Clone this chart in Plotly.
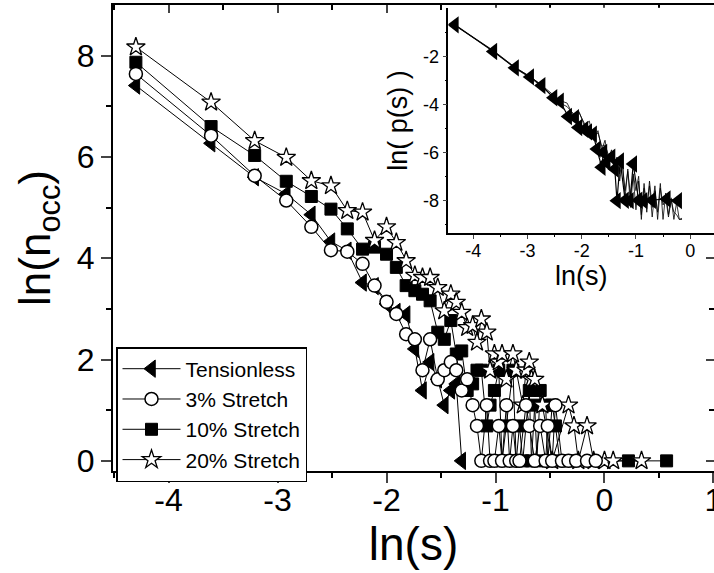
import plotly.graph_objects as go

# ---------------- main panel data: ln(s) vs ln(n_occ) ----------------
tens_x = [-4.30, -3.61, -3.21, -2.92, -2.69, -2.51, -2.36, -2.22, -2.11, -2.00,
          -1.91, -1.82, -1.74, -1.67, -1.60, -1.53, -1.47, -1.41, -1.36, -1.31]
tens_y = [7.41, 6.27, 5.60, 5.27, 4.86, 4.33, 4.15, 3.52, 3.45, 3.10,
          2.94, 2.89, 2.21, 1.39, 1.95, 1.61, 1.10, 1.39, 1.52, 0.00]

s3_x = [-4.30, -3.61, -3.21, -2.92, -2.69, -2.51, -2.36, -2.22, -2.11, -2.00,
        -1.91, -1.82, -1.74, -1.67, -1.60, -1.53, -1.47, -1.41, -1.36, -1.31,
        -1.26, -1.21, -1.17, -1.13, -1.08, -1.05, -1.01, -0.97, -0.94, -0.90,
        -0.87, -0.84, -0.81, -0.78, -0.72, -0.69, -0.64, -0.59, -0.54, -0.52,
        -0.48, -0.45, -0.39, -0.33, -0.26, -0.16, -0.08]
s3_y = [7.64, 6.42, 5.63, 5.14, 4.62, 4.16, 4.13, 3.89, 3.46, 3.14,
        2.90, 2.50, 2.40, 1.79, 2.40, 1.61, 1.79, 1.95, 1.79, 1.39,
        1.61, 1.10, 0.69, 0.00, 1.10, 0.00, 0.00, 0.69, 0.00, 1.10,
        0.00, 0.69, 0.00, 0.00, 1.10, 0.69, 0.00, 0.69, 0.00, 0.69,
        0.00, 1.10, 0.00, 0.00, 0.00, 0.00, 0.00]

s10_x = [-4.30, -3.61, -3.21, -2.92, -2.69, -2.51, -2.36, -2.22, -2.11, -2.00,
         -1.91, -1.82, -1.74, -1.67, -1.60, -1.53, -1.47, -1.41, -1.36, -1.31,
         -1.26, -1.21, -1.17, -1.13, -1.08, -1.05, -1.01, -0.97, -0.94, -0.90,
         -0.84, -0.81, -0.78, -0.75, -0.69, -0.67, -0.64, -0.62, -0.59, -0.54,
         -0.52, -0.48, -0.45, -0.41, -0.35, -0.28, 0.22, 0.57]
s10_y = [7.87, 6.60, 6.03, 5.52, 5.22, 4.97, 4.58, 4.18, 4.22, 4.08,
         3.82, 3.46, 3.36, 3.29, 3.16, 2.54, 2.40, 2.77, 2.11, 2.17,
         1.39, 1.52, 1.79, 1.79, 0.69, 1.10, 1.39, 1.79, 0.00, 0.69,
         1.79, 0.00, 0.69, 0.00, 1.39, 0.00, 1.10, 0.00, 1.39, 1.10,
         0.00, 1.10, 0.69, 0.00, 0.00, 0.00, 0.00, 0.00]

s20_x = [-4.30, -3.61, -3.21, -2.92, -2.69, -2.51, -2.36, -2.22, -2.11, -2.00,
         -1.91, -1.82, -1.74, -1.67, -1.60, -1.53, -1.47, -1.41, -1.36, -1.31,
         -1.26, -1.21, -1.17, -1.13, -1.08, -1.05, -1.01, -0.97, -0.94, -0.90,
         -0.84, -0.81, -0.75, -0.72, -0.69, -0.67, -0.64, -0.57, -0.48, -0.33,
         -0.28, -0.24, -0.16, -0.10, 0.00, 0.08, 0.34]
s20_y = [8.17, 7.08, 6.32, 5.99, 5.53, 5.43, 4.94, 4.91, 4.35, 4.62,
         4.31, 3.95, 3.66, 3.62, 3.62, 3.42, 2.96, 3.29, 3.13, 2.93,
         2.63, 2.67, 2.34, 2.80, 2.54, 1.79, 2.11, 1.95, 2.11, 1.61,
         2.11, 1.79, 1.10, 1.79, 1.95, 1.61, 1.61, 1.10, 0.00, 1.10,
         0.69, 0.00, 0.69, 0.00, 0.00, 0.00, 0.00]

# ---------------- inset data: ln(s) vs ln(p(s)) ----------------
ins_tri_x = [-4.34, -3.63, -3.23, -2.95, -2.74, -2.52, -2.40, -2.25, -2.12, -2.06,
             -1.95, -1.88, -1.79, -1.72, -1.63, -1.60, -1.54, -1.45, -1.39, -1.35,
             -1.29, -1.20, -1.11, -1.05, -0.95, -0.86, -0.70, -0.43, -0.22]
ins_tri_y = [-0.69, -1.80, -2.48, -2.86, -3.22, -3.73, -3.87, -4.51, -4.56, -4.97,
             -5.05, -5.15, -5.25, -5.87, -6.63, -6.01, -6.42, -6.20, -6.70, -8.02,
             -6.36, -8.00, -8.02, -6.49, -8.00, -8.02, -8.00, -7.95, -8.02]

ins_line_x = [-4.34, -3.63, -3.23, -2.95, -2.74, -2.56, -2.40, -2.27, -2.15, -2.05,
              -1.95, -1.86, -1.78, -1.70, -1.63, -1.57, -1.51, -1.45, -1.40, -1.35,
              -1.30, -1.25, -1.20, -1.15, -1.10, -1.05, -1.00, -0.95, -0.90, -0.85,
              -0.80, -0.75, -0.70, -0.65, -0.60, -0.55, -0.50, -0.45, -0.40, -0.35,
              -0.30, -0.25, -0.20, -0.15]
ins_lineA_y = [-0.72, -1.78, -2.50, -2.90, -3.25, -3.62, -3.95, -4.10, -4.40, -4.35,
               -4.80, -4.95, -5.30, -5.20, -5.75, -5.70, -6.10, -6.00, -6.60, -6.30,
               -6.90, -6.50, -7.60, -6.80, -7.80, -7.00, -8.40, -7.20, -8.60, -7.50,
               -8.20, -7.40, -8.70, -7.60, -8.50, -7.30, -8.80, -7.70, -8.60, -7.90,
               -8.80, -8.10, -8.80, -8.80]
ins_lineB_y = [-0.70, -1.76, -2.46, -2.85, -3.20, -3.55, -3.85, -3.95, -4.50, -4.30,
               -4.90, -4.70, -5.50, -5.10, -5.90, -5.50, -6.30, -5.90, -6.80, -6.20,
               -7.20, -6.40, -7.90, -6.70, -8.30, -6.90, -7.60, -7.00, -8.80, -7.30,
               -8.50, -7.20, -8.30, -7.40, -8.80, -7.50, -8.20, -7.90, -8.70, -8.00,
               -8.50, -8.60, -8.80, -8.75]

main_xticks = [-4, -3, -2, -1, 0, 1]
main_xticktext = ["-4", "-3", "-2", "-1", "0", "1"]
main_yticks = [0, 2, 4, 6, 8]
ins_xticks = [-4, -3, -2, -1, 0]
ins_xticktext = ["-4", "-3", "-2", "-1", "0"]
ins_yticks = [-8, -6, -4, -2]
ins_yticktext = ["-8", "-6", "-4", "-2"]

FONT = "Liberation Sans, Arial, sans-serif"
LINE = dict(color="black", width=1)

fig = go.Figure()

fig.add_trace(go.Scatter(x=tens_x, y=tens_y, mode="lines+markers", name="Tensionless",
                         legendrank=1, line=LINE,
                         marker=dict(symbol="triangle-left", size=15, color="black",
                                     line=dict(color="black", width=1))))
fig.add_trace(go.Scatter(x=s10_x, y=s10_y, mode="lines+markers", name="10% Stretch",
                         legendrank=3, line=LINE,
                         marker=dict(symbol="square", size=12, color="black",
                                     line=dict(color="black", width=1))))
fig.add_trace(go.Scatter(x=s20_x, y=s20_y, mode="lines+markers", name="20% Stretch",
                         legendrank=4, line=LINE,
                         marker=dict(symbol="star", size=14, color="white",
                                     line=dict(color="black", width=1.3))))
fig.add_trace(go.Scatter(x=s3_x, y=s3_y, mode="lines+markers", name="3% Stretch",
                         legendrank=2, line=LINE,
                         marker=dict(symbol="circle", size=13, color="white",
                                     line=dict(color="black", width=1.5))))

# overlay axes carrying inward ticks on top and right
fig.add_trace(go.Scatter(x=[None], y=[None], xaxis="x3", yaxis="y3",
                         showlegend=False, hoverinfo="skip"))

# inset
fig.add_trace(go.Scatter(x=ins_line_x, y=ins_lineA_y, mode="lines", xaxis="x2", yaxis="y2",
                         showlegend=False, line=dict(color="black", width=0.8)))
fig.add_trace(go.Scatter(x=ins_line_x, y=ins_lineB_y, mode="lines", xaxis="x2", yaxis="y2",
                         showlegend=False, line=dict(color="black", width=0.8)))
fig.add_trace(go.Scatter(x=ins_tri_x, y=ins_tri_y, mode="lines+markers", xaxis="x2", yaxis="y2",
                         showlegend=False, line=dict(color="black", width=1.2),
                         marker=dict(symbol="triangle-left", size=15, color="black")))

fig.update_layout(
    width=714, height=573,
    margin=dict(l=113, r=0, t=5, b=102, autoexpand=False),
    paper_bgcolor="white", plot_bgcolor="white",
    font=dict(family=FONT, color="black"),
    showlegend=True,
    legend=dict(x=0.005, y=0.266, xanchor="left", yanchor="top",
                bordercolor="black", borderwidth=1.5, bgcolor="white",
                font=dict(family=FONT, size=21, color="black"),
                itemwidth=58, tracegroupgap=0),
    xaxis=dict(range=[-4.51, 1.005], tickvals=main_xticks, ticktext=main_xticktext,
               automargin=False,
               ticks="outside", ticklen=10, tickwidth=2, showline=True, linewidth=2,
               linecolor="black", showgrid=False, zeroline=False,
               tickfont=dict(size=32), ticklabelstandoff=-10, ticklabeloverflow="allow",
               minor=dict(tickvals=[-4.5, -3.5, -2.5, -1.5, -0.5, 0.5], ticks="outside",
                          ticklen=5, tickwidth=1.5, tickcolor="black"),
               title=dict(text="ln(s)", font=dict(size=46), standoff=0)),
    yaxis=dict(range=[-0.2, 9.0], tickvals=main_yticks, automargin=False,
               ticks="outside", ticklen=10, tickwidth=2, showline=True, linewidth=2,
               linecolor="black", showgrid=False, zeroline=False,
               tickfont=dict(size=32),
               minor=dict(tickvals=[1, 3, 5, 7], ticks="outside",
                          ticklen=5, tickwidth=1.5, tickcolor="black"),
               title=dict(text="ln(n<sub>occ</sub>)", font=dict(size=44), standoff=12)),
    xaxis3=dict(overlaying="x", side="top", anchor="y3", range=[-4.51, 1.005],
                automargin=False,
                tickvals=main_xticks, showticklabels=False, ticks="inside",
                ticklen=8, tickwidth=2, showline=True, linewidth=2, linecolor="black",
                showgrid=False, zeroline=False,
                minor=dict(tickvals=[-4.5, -3.5, -2.5, -1.5, -0.5, 0.5], ticks="inside",
                           ticklen=5, tickwidth=1.5, tickcolor="black")),
    yaxis3=dict(overlaying="y", side="right", anchor="x3", range=[-0.2, 9.0],
                automargin=False,
                tickvals=main_yticks, showticklabels=False, ticks="inside",
                ticklen=8, tickwidth=2, showline=True, linewidth=2, linecolor="black",
                showgrid=False, zeroline=False,
                minor=dict(tickvals=[1, 3, 5, 7], ticks="inside",
                           ticklen=5, tickwidth=1.5, tickcolor="black")),
    xaxis2=dict(domain=[0.558, 1.0], anchor="y2", range=[-4.46, 0.44],
                automargin=False,
                tickvals=ins_xticks, ticktext=ins_xticktext,
                ticks="outside", ticklen=4, tickwidth=1.2, showline=True, linewidth=1.5,
                linecolor="black", showgrid=False, zeroline=False,
                tickfont=dict(size=18), ticklabelstandoff=-4,
                minor=dict(tickvals=[-4.5, -3.5, -2.5, -1.5, -0.5], ticks="outside",
                           ticklen=2, tickwidth=1, tickcolor="black"),
                title=dict(text="ln(s)", font=dict(size=27), standoff=0)),
    yaxis2=dict(domain=[0.510, 0.994], anchor="x2", range=[-9.38, 0.02],
                automargin=False,
                tickvals=ins_yticks, ticktext=ins_yticktext,
                ticks="outside", ticklen=4, tickwidth=1.2, showline=True, linewidth=1.5,
                linecolor="black", showgrid=False, zeroline=False,
                tickfont=dict(size=18),
                minor=dict(tickvals=[-9, -7, -5, -3, -1], ticks="outside",
                           ticklen=2, tickwidth=1, tickcolor="black"),
                title=dict(text="ln( p(s) )", font=dict(size=27), standoff=8)),
)

fig.write_html("out.html")
